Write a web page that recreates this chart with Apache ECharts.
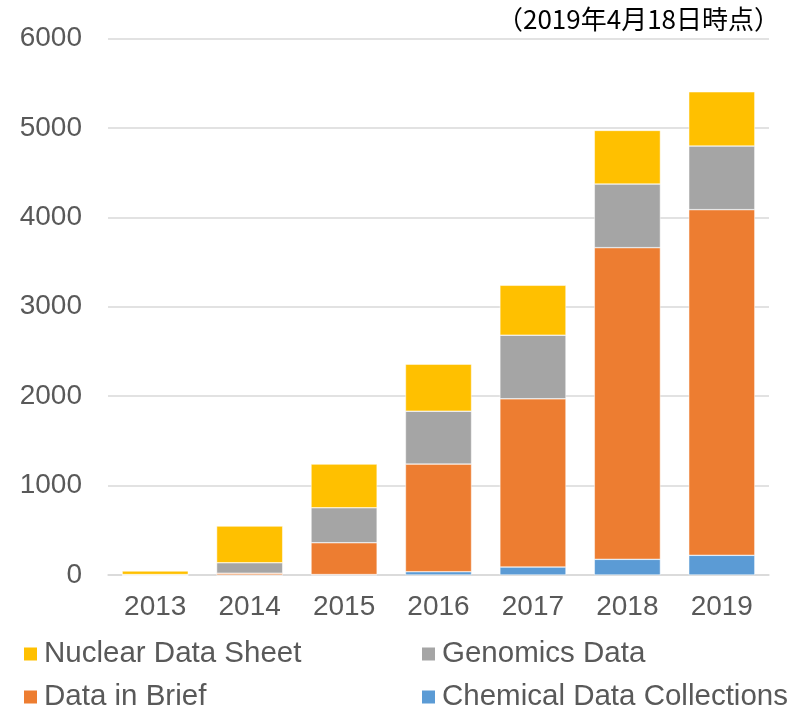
<!DOCTYPE html>
<html>
<head>
<meta charset="utf-8">
<script src="https://cdn.jsdelivr.net/npm/echarts@6/dist/echarts.min.js"></script>
<style>
  html, body { margin: 0; padding: 0; background: #fff; }
  #chart { width: 800px; height: 712px; }
</style>
</head>
<body>
<div id="chart"></div>
<script>
const years = ['2013', '2014', '2015', '2016', '2017', '2018', '2019'];
const chemicalData = [0, 0, 5, 37, 89, 175, 220];
const dataInBrief = [0, 20, 356, 1203, 1881, 3486, 3866];
const genomicsData = [5, 117, 391, 592, 712, 711, 711];
const nuclearData = [40, 410, 488, 526, 558, 600, 607];
const yTicks = [0, 1000, 2000, 3000, 4000, 5000, 6000];

const textColor = '#595959';
const font = 'Liberation Sans, Arial, sans-serif';

function makeSeries(name, data, color) {
    return {
        name: name,
        type: 'bar',
        stack: 'total',
        barWidth: '70%',
        data: data,
        itemStyle: { color: color, borderColor: '#fff', borderWidth: 0.5 }
    };
}

// one legend per entry so the 2x2 layout matches
function legendItem(left, top, name) {
    return {
        left: left,
        top: top,
        itemWidth: 15,
        itemHeight: 15,
        icon: 'rect',
        data: [name],
        textStyle: { color: textColor, fontSize: 29.5, fontFamily: font, padding: [0, 0, 0, 1] }
    };
}

function initChart() {
    const chart = echarts.init(document.getElementById('chart'), null, { renderer: 'canvas' });
    const option = {
        animation: false,
        grid: { left: 108, right: 31, top: 38.5, bottom: 137, containLabel: false },
        graphic: [{
            type: 'text',
            right: 20,
            top: 6,
            style: {
                text: '（2019年4月18日時点）',
                fill: '#000',
                fontSize: 26,
                fontFamily: 'Noto Sans CJK JP, sans-serif'
            }
        }],
        legend: [
            legendItem(17, 634, 'Nuclear Data Sheet'),
            legendItem(17, 677, 'Data in Brief'),
            legendItem(415, 634, 'Genomics Data'),
            legendItem(415, 677, 'Chemical Data Collections')
        ],
        xAxis: {
            type: 'category',
            data: years,
            axisTick: { show: false },
            axisLine: { lineStyle: { color: '#D9D9D9', width: 1.5 } },
            axisLabel: { color: textColor, fontSize: 28, fontFamily: font, margin: 18 }
        },
        yAxis: {
            type: 'value',
            min: yTicks[0],
            max: yTicks[yTicks.length - 1],
            interval: 1000,
            axisLine: { show: false },
            axisTick: { show: false },
            splitLine: { lineStyle: { color: '#D9D9D9', width: 1.5 } },
            axisLabel: {
                color: textColor, fontSize: 28, fontFamily: font, margin: 26,
                formatter: v => String(v)
            }
        },
        series: [
            makeSeries('Chemical Data Collections', chemicalData, '#5B9BD5'),
            makeSeries('Data in Brief', dataInBrief, '#ED7D31'),
            makeSeries('Genomics Data', genomicsData, '#A5A5A5'),
            makeSeries('Nuclear Data Sheet', nuclearData, '#FFC000')
        ]
    };
    chart.setOption(option);
}

document.addEventListener('DOMContentLoaded', initChart);
</script>
</body>
</html>
